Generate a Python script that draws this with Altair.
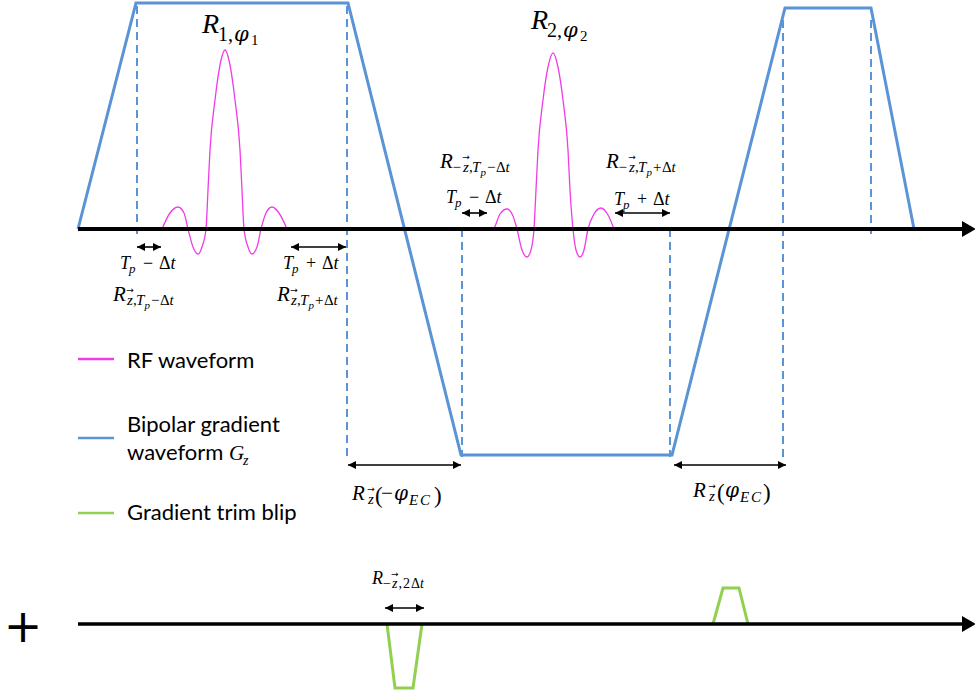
import altair as alt
import pandas as pd

# ---------------------------------------------------------------------------
# Pulse-sequence geometry. Horizontal = time (px), vertical = amplitude (px,
# measured downward so that the two channel baselines sit at 229 and 624).
# ---------------------------------------------------------------------------
RF_BASE = 229
TRIM_BASE = 624

# bipolar gradient G_z (trapezoid lobes)
grad_t = [78, 136, 348, 461, 672, 785, 871, 914]
grad_a = [229, 3, 3, 455, 455, 8, 8, 229]

# dashed timing guides at the plateau edges
guide_t = [137, 347, 462, 670, 783, 871]
guide_top = [6, 6, 229, 229, 20, 20]
guide_bot = [234, 457, 457, 457, 457, 234]

# RF pulse 1 (sinc-like)
rf1_t = [162, 170, 178, 184, 188, 193, 198, 202, 206, 208, 210, 215, 220, 225,
         230, 235, 240, 242, 244, 248, 252, 257, 261, 266, 272, 279, 287]
rf1_a = [229, 213, 207, 213, 229, 247, 254, 247, 229, 190, 150, 100, 65, 50,
         65, 100, 150, 190, 229, 247, 254, 247, 229, 213, 207, 213, 229]

# RF pulse 2
rf2_t = [488, 493, 500, 507, 513, 517, 522, 527, 531, 534, 536, 538, 543, 548,
         553, 558, 563, 568, 570, 573, 576, 580, 584, 588, 594, 601, 608, 614]
rf2_a = [229, 229, 214, 209, 216, 229, 250, 257, 250, 229, 190, 150, 100, 67,
         53, 67, 100, 150, 190, 229, 250, 257, 250, 229, 214, 208, 215, 229]

# gradient trim blips on the second channel
blip1_t = [387, 395, 413, 422]
blip1_a = [624, 688, 688, 624]
blip2_t = [713, 723, 739, 748]
blip2_a = [624, 588, 588, 624]

# double-headed interval arrows (start, end, level)
span_t1 = [137, 291, 462, 615, 348, 674, 385]
span_t2 = [161, 346, 487, 670, 461, 786, 424]
span_lv = [247, 247, 213, 213, 465, 465, 608]

# time axes
axis_t1 = [78, 78]
axis_t2 = [964, 964]
axis_lv = [RF_BASE, TRIM_BASE]
axis_w = [4, 3.5]

# legend
legend_names = ["RF waveform", "Bipolar gradient", "Gradient trim blip"]
legend_lv = [359, 438, 513]

BLUE = "#5B94D6"
MAGENTA = "#F03CE8"
GREEN = "#92D050"
legend_colors = [MAGENTA, BLUE, GREEN]

HEAD_R = "M-1,-1L1,0L-1,1Z"
HEAD_L = "M1,-1L-1,0L1,1Z"
AXIS_HEAD = "M-1,-1.15L1,0L-1,1.15Z"

# ---------------------------------------------------------------------------
# Text: math labels are assembled from italic / upright pieces with sub- and
# sub-sub-scripts.
# ---------------------------------------------------------------------------
pieces = []


def put(kind, text, x, y, size):
    pieces.append({"kind": kind, "text": text, "x": x, "y": y, "size": size})


def vec_z(x, y, size):
    put("mi", "z", x, y, size)
    put("vec", "→", x + size * 0.2, y - size * 1.0, 9)


def t_label(x0, y0, op):
    put("mi", "T", x0, y0, 18)
    put("mi", "p", x0 + 9, y0 + 4, 13)
    put("mu", op, x0 + 23, y0, 18)
    put("mu", "Δ", x0 + 39, y0, 18)
    put("mi", "t", x0 + 50.5, y0, 18)


def r_label(x0, y0, neg, op):
    put("mi", "R", x0, y0, 21)
    s = 0
    if neg:
        put("mu", "−", x0 + 12.5, y0 + 4, 15)
        s = 9
    vec_z(x0 + 14 + s, y0 + 4, 15)
    put("mu", ",", x0 + 20 + s, y0 + 4, 15)
    put("mi", "T", x0 + 23 + s, y0 + 4, 15)
    put("mi", "p", x0 + 31.5 + s, y0 + 7.5, 11)
    put("mu", op, x0 + 38 + s, y0 + 4, 15)
    put("mu", "Δ", x0 + 47 + s, y0 + 4, 15)
    put("mi", "t", x0 + 56.5 + s, y0 + 4, 15)


# R_{1,φ1} and R_{2,φ2}
put("mi", "R", 202, 33, 28)
put("mu", "1", 218, 41, 20)
put("mu", ",", 228, 41, 20)
put("gi", "φ", 234, 41, 21)
put("mu", "1", 251, 45, 15)

put("mi", "R", 531, 29, 28)
put("mu", "2", 547, 37, 20)
put("mu", ",", 557, 37, 20)
put("gi", "φ", 563, 37, 21)
put("mu", "2", 580, 41, 15)

t_label(120, 269, "−")
t_label(283, 269, "+")
t_label(446, 203, "−")
t_label(614, 205, "+")

r_label(113, 301, False, "−")
r_label(277, 301, False, "+")
r_label(440, 168, True, "−")
r_label(606, 168, True, "+")

# R_{-z,2Δt}
put("mi", "R", 372, 584, 18)
put("mu", "−", 383, 588, 14)
vec_z(392, 588, 14)
put("mu", ",", 398.5, 588, 14)
put("mu", "2", 403, 588, 14)
put("mu", "Δ", 411, 588, 14)
put("mi", "t", 420, 588, 14)

# R_z(-φ_EC)
put("mi", "R", 352, 500, 21)
vec_z(368, 504, 15)
put("mu", "(", 375, 503, 23)
put("mu", "−", 381, 500, 21)
put("gi", "φ", 394, 500, 20)
put("mi", "E", 409, 505, 15)
put("mi", "C", 420, 505, 15)
put("mu", ")", 434, 503, 23)

# R_z(φ_EC)
put("mi", "R", 693, 497, 21)
vec_z(709, 501, 15)
put("mu", "(", 717, 500, 23)
put("gi", "φ", 725, 497, 20)
put("mi", "E", 740, 502, 15)
put("mi", "C", 751, 502, 15)
put("mu", ")", 763, 500, 23)

# legend labels
put("sans", "RF waveform", 127, 368, 22)
put("sans", "Bipolar gradient", 127, 432, 22)
put("sans", "waveform", 127, 460, 22)
put("mi", "G", 229, 460, 21)
put("mi", "z", 243, 465, 14)
put("sans", "Gradient trim blip", 127, 520, 22)

put("plus", "+", 23, 628, 46)

text_df = pd.DataFrame(pieces)

# ---------------------------------------------------------------------------
# Data frames
# ---------------------------------------------------------------------------
grad_df = pd.DataFrame({"t": grad_t, "a": grad_a, "i": range(len(grad_t))})
guide_df = pd.DataFrame({"t": guide_t, "top": guide_top, "bot": guide_bot})
rf_df = pd.concat([
    pd.DataFrame({"t": rf1_t, "a": rf1_a, "pulse": "1", "i": range(len(rf1_t))}),
    pd.DataFrame({"t": rf2_t, "a": rf2_a, "pulse": "2", "i": range(len(rf2_t))}),
])
blip_df = pd.concat([
    pd.DataFrame({"t": blip1_t, "a": blip1_a, "blip": "neg", "i": range(4)}),
    pd.DataFrame({"t": blip2_t, "a": blip2_a, "blip": "pos", "i": range(4)}),
])
axis_df = pd.DataFrame({"t1": axis_t1, "t2": axis_t2, "lv": axis_lv, "w": axis_w})
axis_head_df = pd.DataFrame({"t": [969, 969], "lv": axis_lv})
span_df = pd.DataFrame({"t1": span_t1, "t2": span_t2, "lv": span_lv})
head_df = pd.concat([
    pd.DataFrame({"t": [v + 4 for v in span_t1], "lv": span_lv, "dir": "L"}),
    pd.DataFrame({"t": [v - 4 for v in span_t2], "lv": span_lv, "dir": "R"}),
])
legend_df = pd.DataFrame({"name": legend_names, "lv": legend_lv, "c": legend_colors,
                          "t1": [78] * 3, "t2": [114] * 3})

# ---------------------------------------------------------------------------
# Chart
# ---------------------------------------------------------------------------
xs = alt.Scale(domain=[0, 975], nice=False, zero=False)
ys = alt.Scale(domain=[0, 697], nice=False, zero=False, reverse=True)


def X(f):
    return alt.X(f"{f}:Q", scale=xs, axis=None)


def Y(f):
    return alt.Y(f"{f}:Q", scale=ys, axis=None)


guides = alt.Chart(guide_df).mark_rule(color=BLUE, strokeWidth=2, strokeDash=[8, 5]).encode(
    x=X("t"), y=Y("top"), y2=alt.Y2("bot:Q"))

axes = alt.Chart(axis_df).mark_rule(color="black").encode(
    x=X("t1"), x2=alt.X2("t2:Q"), y=Y("lv"),
    strokeWidth=alt.StrokeWidth("w:Q", scale=None, legend=None))

axis_heads = alt.Chart(axis_head_df).mark_point(
    shape=AXIS_HEAD, size=196, filled=True, color="black", opacity=1, strokeWidth=0
).encode(x=X("t"), y=Y("lv"))

gradient = alt.Chart(grad_df).mark_line(color=BLUE, strokeWidth=3).encode(
    x=X("t"), y=Y("a"), order="i:Q")

rf = alt.Chart(rf_df).mark_line(color=MAGENTA, strokeWidth=1.3, interpolate="monotone").encode(
    x=X("t"), y=Y("a"), detail="pulse:N", order="i:Q")

blips = alt.Chart(blip_df).mark_line(color=GREEN, strokeWidth=3).encode(
    x=X("t"), y=Y("a"), detail="blip:N", order="i:Q")

legend_lines = alt.Chart(legend_df).mark_rule(strokeWidth=2.5).encode(
    x=X("t1"), x2=alt.X2("t2:Q"), y=Y("lv"),
    color=alt.Color("c:N", scale=None, legend=None))

spans = alt.Chart(span_df).mark_rule(color="black", strokeWidth=1.6).encode(
    x=X("t1"), x2=alt.X2("t2:Q"), y=Y("lv"))

span_heads = alt.Chart(head_df).mark_point(
    size=64, filled=True, color="black", opacity=1, strokeWidth=0
).encode(
    x=X("t"), y=Y("lv"),
    shape=alt.Shape("dir:N", scale=alt.Scale(domain=["L", "R"], range=[HEAD_L, HEAD_R]),
                    legend=None))


def text_layer(kind, **style):
    return alt.Chart(text_df).transform_filter(
        alt.datum.kind == kind
    ).mark_text(color="black", **style).encode(
        x=X("x"), y=Y("y"), text="text:N",
        size=alt.Size("size:Q", scale=None, legend=None))


math_it = text_layer("mi", font="Liberation Serif", fontStyle="italic",
                     align="left", baseline="alphabetic")
greek_it = text_layer("gi", font="DejaVu Serif", fontStyle="italic",
                      align="left", baseline="alphabetic")
math_up = text_layer("mu", font="Liberation Serif", align="left", baseline="alphabetic")
vec_marks = text_layer("vec", font="DejaVu Sans", align="center", baseline="middle")
sans = text_layer("sans", font="Lato", align="left", baseline="alphabetic")
plus = text_layer("plus", font="DejaVu Sans", align="center", baseline="middle")

chart = alt.layer(
    guides, gradient, rf, blips, axes, axis_heads, legend_lines, spans, span_heads,
    math_it, greek_it, math_up, vec_marks, sans, plus,
).properties(
    width=975, height=697, padding=0, autosize="none"
).configure_view(stroke=None)

chart.save("out.html", embed_options={"renderer": "svg", "actions": False})
